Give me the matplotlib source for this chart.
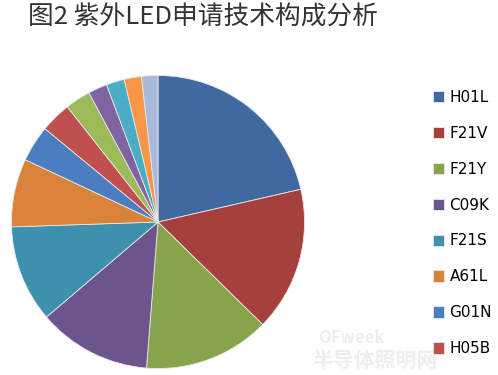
import matplotlib
matplotlib.use('Agg')
import matplotlib.pyplot as plt

plt.rcParams['font.family'] = ['Noto Sans CJK SC', 'DejaVu Sans']

title = '图2 紫外LED申请技术构成分析'
labels = ['H01L', 'F21V', 'F21Y', 'C09K', 'F21S', 'A61L', 'G01N', 'H05B',
          'F21K', 'G02B', 'B01J', 'C02F', 'H01J']
shares = [21.4, 15.9, 13.9, 12.5, 10.7, 7.5, 4.0, 3.4, 2.8, 2.1, 2.0, 1.9, 1.8]
colors = ['#3F69A0', '#A5403D', '#86A44B', '#6D548D', '#3D91AC', '#D9823A',
          '#4A7EC0', '#C0504D', '#9BBB59', '#8064A2', '#4BACC6', '#F79646',
          '#A9B9DA']
n_legend = 8

fig = plt.figure(figsize=(4.98, 3.75), dpi=100)
fig.patch.set_facecolor('white')

ax = fig.add_axes([10/498, 5/375, 296/498, 296/375])
wedges, _ = ax.pie(shares, colors=colors, startangle=90, counterclock=False,
                   radius=1, wedgeprops=dict(edgecolor='#e8e8e8', linewidth=0.6))
ax.set_xlim(-1.01, 1.01)
ax.set_ylim(-1.01, 1.01)
ax.set_aspect('equal')
ax.axis('off')

fig.text(28/498, 1 - 5/375, title, fontsize=18.5, color='#333333', va='top', ha='left')

# watermark
fig.text(318/498, 1 - 338/375, 'OFweek', fontsize=12, color='#eeeeee',
         fontweight='bold', style='italic', va='center')
fig.text(312/498, 1 - 360/375, '半导体照明网', fontsize=15, color='#eeeeee',
         fontweight='bold', va='center')

fig.legend(wedges[:n_legend], labels[:n_legend], loc='upper left',
           bbox_to_anchor=(419/498, 1 - 76/375), frameon=False,
           handlelength=0.75, handleheight=0.75, handletextpad=0.35,
           labelspacing=1.37, prop={'family': ['DejaVu Sans'], 'size': 11})

fig.savefig('out.png', dpi=100)
